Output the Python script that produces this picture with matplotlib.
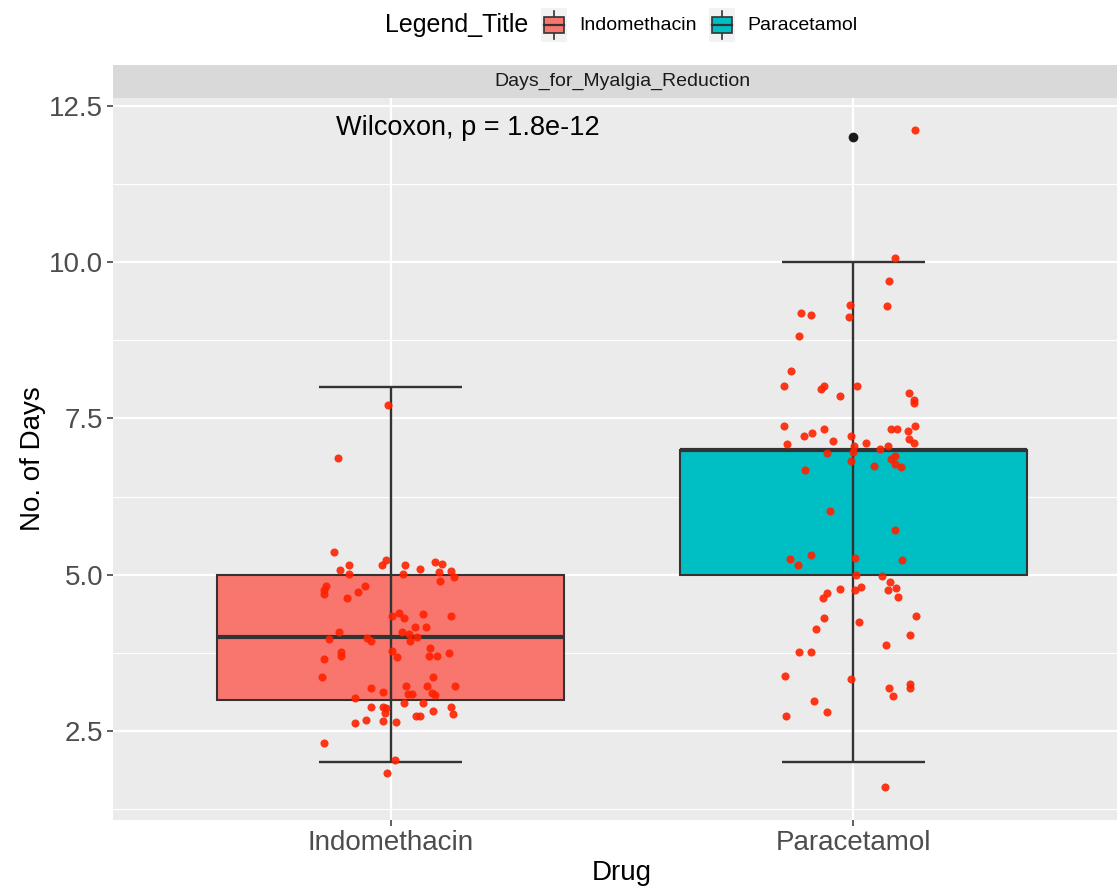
import numpy as np
import matplotlib
matplotlib.use("Agg")
import matplotlib.pyplot as plt
from matplotlib.patches import Rectangle

plt.rcParams["font.family"] = ["Liberation Sans", "DejaVu Sans"]

# ---- data ----
drugs = ["Indomethacin", "Paracetamol"]
fill_colors = ["#F8766D", "#00BFC4"]

# box stats: whisker low, q1, median, q3, whisker high
whis_lo = [2, 2]
q1 = [3, 5]
med = [4, 7]
q3 = [5, 7]
whis_hi = [8, 10]
outliers = [[], [12]]

# jittered points: horizontal offset from category centre, value
indo_dx = [-0.006, -0.113, -0.123, -0.110, -0.091, -0.091, -0.019, -0.009, 0.030, 0.026,
           0.063, 0.095, 0.112, 0.104, 0.130, 0.136, 0.106, -0.140, -0.145, -0.145,
           -0.056, -0.071, -0.094, 0.002, 0.017, 0.028, 0.071, 0.130, 0.052, 0.077,
           0.024, 0.039, 0.058, 0.041, -0.111, -0.133, -0.050, -0.043, 0.002, 0.013,
           -0.108, -0.108, -0.145, 0.086, 0.082, 0.101, 0.127, -0.148, 0.092, -0.042,
           -0.017, 0.034, 0.078, 0.140, 0.037, 0.047, 0.090, 0.095, -0.076, 0.029,
           0.071, -0.043, -0.017, -0.009, -0.013, 0.131, 0.134, 0.092, 0.054, 0.063,
           -0.054, -0.076, -0.017, 0.011, -0.143, 0.009, -0.008]
indo_y = [7.72, 6.87, 5.36, 5.08, 5.16, 5.01, 5.16, 5.24, 5.16, 5.01,
          5.09, 5.20, 5.17, 5.04, 5.06, 4.96, 4.90, 4.82, 4.76, 4.69,
          4.82, 4.73, 4.62, 4.34, 4.38, 4.31, 4.37, 4.34, 4.16, 4.16,
          4.08, 4.05, 4.00, 3.94, 4.08, 3.97, 3.98, 3.94, 3.78, 3.68,
          3.76, 3.70, 3.65, 3.83, 3.70, 3.70, 3.75, 3.36, 3.36, 3.19,
          3.12, 3.22, 3.22, 3.22, 3.09, 3.09, 3.10, 3.08, 3.03, 2.94,
          2.95, 2.89, 2.89, 2.86, 2.79, 2.89, 2.77, 2.82, 2.74, 2.74,
          2.67, 2.62, 2.66, 2.65, 2.31, 2.03, 1.83]

para_dx = [0.134, 0.089, 0.076, -0.008, 0.073, -0.114, -0.091, -0.010, -0.117, -0.134,
           -0.149, -0.071, -0.064, 0.008, -0.028, 0.121, 0.132, 0.132, -0.150, -0.107,
           -0.089, -0.063, -0.005, -0.043, -0.143, 0.082, 0.094, 0.117, 0.134, 0.121,
           0.130, 0.027, 0.001, 0.058, 0.074, -0.001, -0.057, -0.005, 0.081, 0.089,
           0.089, 0.102, 0.044, -0.104, -0.050, 0.091, 0.105, 0.003, -0.138, -0.119,
           -0.092, 0.006, 0.062, 0.079, 0.074, 0.093, 0.097, -0.028, -0.056, -0.066,
           0.003, 0.017, -0.064, 0.012, -0.081, 0.135, 0.123, 0.071, -0.117, -0.091,
           -0.148, -0.006, 0.078, 0.086, 0.122, 0.122, -0.084, -0.058, -0.146, 0.068]
para_y = [12.12, 10.06, 9.70, 9.32, 9.30, 9.18, 9.16, 9.12, 8.82, 8.26,
          8.01, 7.97, 8.01, 8.01, 7.85, 7.90, 7.80, 7.75, 7.37, 7.22,
          7.26, 7.33, 7.22, 7.14, 7.09, 7.33, 7.33, 7.30, 7.37, 7.17,
          7.11, 7.11, 7.06, 7.01, 7.05, 6.96, 6.94, 6.82, 6.85, 6.90,
          6.77, 6.73, 6.74, 6.68, 6.02, 5.72, 5.24, 5.26, 5.25, 5.16,
          5.31, 5.00, 4.98, 4.88, 4.75, 4.78, 4.65, 4.77, 4.70, 4.62,
          4.76, 4.81, 4.30, 4.24, 4.13, 4.34, 4.04, 3.88, 3.77, 3.77,
          3.38, 3.33, 3.18, 3.06, 3.25, 3.18, 2.98, 2.80, 2.74, 1.61]

p_label = "Wilcoxon, p = 1.8e-12"

W, H = 1117, 888
fig = plt.figure(figsize=(W / 100, H / 100), dpi=100)

# panel (ggplot panel runs past the right edge of the picture)
px_left, px_right, px_top, px_bot = 113, 1131, 98, 820
ax = fig.add_axes([px_left / W, 1 - px_bot / H, (px_right - px_left) / W, (px_bot - px_top) / H])
ax.set_facecolor("#EBEBEB")
for s in ax.spines.values():
    s.set_visible(False)

# boxes
stats = []
for i in range(2):
    stats.append({"whislo": q1[i], "q1": q1[i], "med": med[i], "q3": q3[i],
                  "whishi": q3[i], "fliers": outliers[i]})
bp = ax.bxp(stats, positions=[1, 2], widths=0.75, patch_artist=True, showcaps=False,
            manage_ticks=False,
            boxprops=dict(edgecolor="#333333", linewidth=1.5),
            medianprops=dict(color="#333333", linewidth=3),
            whiskerprops=dict(linewidth=0),
            flierprops=dict(marker="o", markerfacecolor="#1A1A1A", markeredgecolor="#1A1A1A",
                            markersize=6))
for patch, c in zip(bp["boxes"], fill_colors):
    patch.set_facecolor(c)

# error bars (drawn over the boxes, as in the reference)
for i, pos in enumerate([1, 2]):
    ax.vlines(pos, whis_lo[i], whis_hi[i], color="#333333", linewidth=1.7, zorder=4)
    ax.hlines([whis_lo[i], whis_hi[i]], pos - 0.155, pos + 0.155, color="#333333",
              linewidth=1.7, zorder=4)

# jittered points
ax.scatter(1 + np.array(indo_dx), indo_y, s=34, color="#FF2200", alpha=0.9,
           linewidths=0, zorder=5)
ax.scatter(2 + np.array(para_dx), para_y, s=34, color="#FF2200", alpha=0.9,
           linewidths=0, zorder=5)

ax.text(0.881, 12.14, p_label, fontsize=19.5, color="black", ha="left", va="center")

ax.set_xlim(0.4, 2.6)
ax.set_ylim(1.075, 12.625)
ax.set_yticks([2.5, 5.0, 7.5, 10.0, 12.5])
ax.set_yticklabels(["2.5", "5.0", "7.5", "10.0", "12.5"])
ax.set_yticks([1.25, 3.75, 6.25, 8.75, 11.25], minor=True)
ax.set_xticks([1, 2])
ax.set_xticklabels(drugs)
ax.grid(True, which="major", color="white", linewidth=1.6)
ax.grid(True, which="minor", axis="y", color="white", linewidth=0.8)
ax.set_axisbelow(True)
ax.tick_params(axis="both", which="major", length=4, width=1.1, color="#333333",
               labelsize=20, labelcolor="#4D4D4D", pad=3)
ax.tick_params(axis="y", which="minor", length=0)
ax.set_xlabel("Drug", fontsize=20, color="black", labelpad=3)
ax.set_ylabel("No. of Days", fontsize=20, color="black", labelpad=2)

# facet strip
strip = fig.add_axes([px_left / W, 1 - px_top / H, (px_right - px_left) / W, 33 / H])
strip.set_facecolor("#D9D9D9")
strip.set_xticks([])
strip.set_yticks([])
for s in strip.spines.values():
    s.set_visible(False)
strip.text(0.5, 0.5, "Days_for_Myalgia_Reduction", fontsize=14, color="#1A1A1A",
           ha="center", va="center", transform=strip.transAxes)

# legend on top
fig.text(385 / W, 1 - 25 / H, "Legend_Title", fontsize=18, ha="left", va="center")
key_x = [541, 709]
label_x = [579, 747]
for kx, lx, c, lab in zip(key_x, label_x, fill_colors, drugs):
    kax = fig.add_axes([kx / W, 1 - 42 / H, 26 / W, 34 / H])
    kax.set_xlim(0, 1)
    kax.set_ylim(0, 1)
    kax.set_facecolor("#F2F2F2")
    kax.set_xticks([])
    kax.set_yticks([])
    for s in kax.spines.values():
        s.set_visible(False)
    kax.plot([0.5, 0.5], [0.08, 0.92], color="#333333", linewidth=1.2)
    kax.add_patch(Rectangle((0.12, 0.27), 0.76, 0.46, facecolor=c, edgecolor="#333333",
                            linewidth=1.2, zorder=3))
    kax.plot([0.12, 0.88], [0.5, 0.5], color="#333333", linewidth=1.6, zorder=4)
    fig.text(lx / W, 1 - 25 / H, lab, fontsize=14, ha="left", va="center")

fig.savefig("out.png", dpi=100)
